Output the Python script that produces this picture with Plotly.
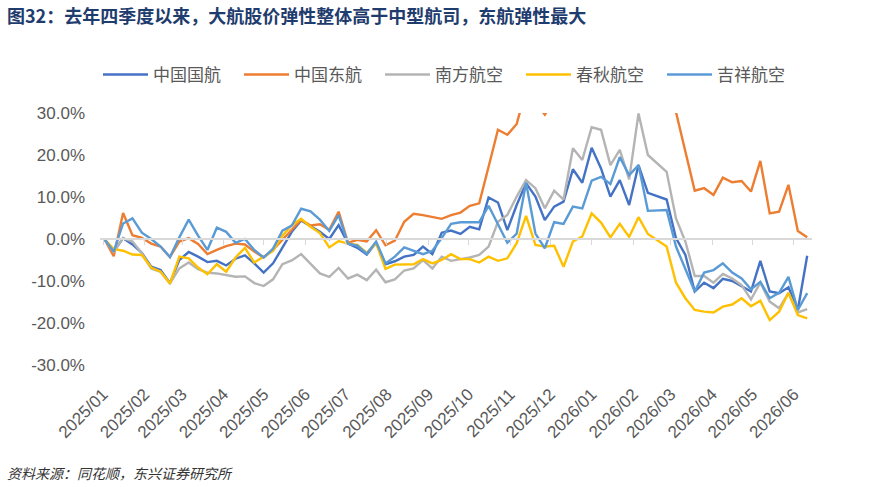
import pandas as pd
import plotly.graph_objects as go

# weekly observation dates (x categories)
dates = pd.date_range("2025-01-02", periods=76, freq="7D")

series_names = ["中国国航", "中国东航", "南方航空", "春秋航空", "吉祥航空"]
series_colors = ["#4472C4", "#ED7D31", "#B4B4B4", "#FFC000", "#5B9BD5"]

air_china = [0, -3.0, 0.2, -1.3, -3.3, -6.6, -7.4, -10.5, -5.0, -3.1,
             -4.2, -5.5, -5.2, -6.3, -4.7, -3.9, -5.8, -8.0, -5.8, -2.0,
             1.7, 4.4, 3.1, 1.7, 0.0, 3.3, -1.1, -2.1, -3.7, -0.9,
             -6.0, -5.3, -4.2, -3.8, -1.8, -3.6, 1.5, 2.0, 1.2, 2.9,
             2.3, 9.9, 8.7, 2.1, 8.1, 13.3, 10.1, 4.5, 7.7, 8.9,
             16.6, 13.4, 21.7, 16.8, 10.1, 14.0, 8.1, 17.6, 11.0, 10.2,
             9.4, 0.2, -3.8, -12.5, -10.4, -11.7, -9.5, -10.0, -11.3, -12.5,
             -5.2, -12.5, -12.9, -11.5, -16.9, -4.0]

china_eastern = [0, -4.1, 6.2, 0.9, 0.3, -1.1, -1.8, -4.3, -0.6, 0.2,
                 -1.2, -3.6, -2.6, -1.7, -1.1, -1.3, -3.0, -4.4, -2.6, -0.2,
                 2.3, 4.6, 3.2, 3.5, 2.2, 6.5, -0.9, -0.2, -0.6, 2.1,
                 -1.5, -0.4, 4.1, 6.0, 5.7, 5.3, 4.8, 5.7, 6.3, 7.9,
                 8.5, 17.2, 26.0, 24.8, 27.4, 35.5, 32.5, 29.6, 33.0, 37.0,
                 41.0, 39.0, 45.0, 43.0, 38.0, 42.0, 39.0, 44.0, 40.0, 38.0,
                 36.0, 30.2, 21.0, 11.5, 12.1, 10.5, 14.6, 13.5, 13.8, 11.3,
                 18.6, 6.1, 6.5, 12.9, 1.9, 0.4]

china_southern = [0, -3.0, 0.2, -0.6, -3.4, -7.0, -7.8, -10.6, -7.0, -5.6,
                  -7.2, -8.0, -8.2, -8.6, -9.0, -8.9, -10.5, -11.2, -9.6, -6.0,
                  -5.1, -3.6, -6.0, -8.2, -9.0, -6.9, -9.4, -8.5, -9.8, -7.3,
                  -10.3, -9.6, -7.5, -7.0, -5.0, -7.0, -4.2, -5.2, -4.8, -4.4,
                  -3.8, -1.8, 4.1, 5.7, 10.1, 14.0, 12.1, 7.3, 11.5, 9.4,
                  21.6, 18.8, 26.6, 26.0, 17.6, 21.2, 14.2, 29.9, 20.0, 18.0,
                  16.0, 4.9, -0.6, -8.8, -8.8, -10.4, -8.3, -9.4, -11.0, -14.4,
                  -10.4, -14.9, -16.5, -12.9, -17.5, -16.7]

spring_airlines = [0, -2.4, -2.8, -3.7, -3.8, -6.8, -7.8, -10.6, -4.2, -4.6,
                   -6.8, -8.4, -6.0, -7.8, -4.4, -2.1, -5.6, -4.1, -2.8, 0.8,
                   3.3, 4.8, 2.9, 1.4, -2.0, -0.5, -1.1, -1.4, -3.3, -1.0,
                   -7.1, -6.1, -6.0, -6.0, -4.8, -5.8, -5.0, -3.6, -4.8, -4.8,
                   -5.6, -4.2, -5.2, -4.6, -1.0, 5.5, -1.4, -1.8, -1.6, -6.6,
                   -0.6, 0.6, 6.1, 3.9, 0.4, 3.6, 0.5, 5.2, 1.2, -0.2,
                   -1.8, -10.4, -14.1, -16.9, -17.3, -17.5, -16.1, -15.6, -14.1, -16.0,
                   -14.7, -19.3, -17.3, -12.8, -18.1, -18.9]

juneyao = [0, -3.0, 3.7, 4.9, 1.5, 0.0, -1.8, -4.3, 0.4, 4.6,
           0.8, -2.6, 2.7, 1.7, -0.9, 0.0, -2.6, -4.4, -2.3, 2.0,
           3.2, 7.2, 6.6, 4.6, 1.9, 5.7, -1.1, -1.6, -3.5, -0.6,
           -5.8, -4.2, -2.0, -2.8, -3.6, -2.8, 0.2, 3.6, 4.0, 4.0,
           4.0, 7.9, 3.6, -0.9, 1.3, 13.4, 1.3, -2.2, 4.0, 3.6,
           7.7, 7.3, 13.9, 14.8, 13.1, 19.5, 15.2, 17.6, 6.7, 6.8,
           6.9, -1.8, -7.0, -12.5, -8.0, -7.4, -5.8, -8.0, -9.4, -12.0,
           -10.2, -14.1, -12.8, -9.0, -16.9, -12.9]

y_tickvals = [30, 20, 10, 0, -10, -20, -30]
y_ticktext = ["30.0%", "20.0%", "10.0%", "0.0%", "-10.0%", "-20.0%", "-30.0%"]

title_text = "图32：去年四季度以来，大航股价弹性整体高于中型航司，东航弹性最大"
source_text = "资料来源：同花顺，东兴证券研究所"

all_series = [air_china, china_eastern, china_southern, spring_airlines, juneyao]

W, H = 869, 487
L, R, T, B = 100, 57, 113, 122

fig = go.Figure()
for name, color, vals in zip(series_names, series_colors, all_series):
    fig.add_trace(go.Scatter(x=dates, y=vals, name=name, mode="lines",
                             line=dict(color=color, width=2.4)))

tick_font = dict(family="Liberation Sans, Arial, sans-serif", size=17, color="#595959")

fig.update_layout(
    width=W, height=H,
    margin=dict(l=L, r=R, t=T, b=B, autoexpand=False),
    paper_bgcolor="white", plot_bgcolor="white",
    showlegend=True,
    legend=dict(orientation="h", xref="container", yref="container",
                x=98 / W, y=1 - 75 / H, xanchor="left", yanchor="middle",
                font=dict(family="Noto Sans CJK SC", size=17, color="#595959"),
                itemwidth=45,
                entrywidth=81, entrywidthmode="pixels", bgcolor="rgba(0,0,0,0)"),
    xaxis=dict(type="date", range=["2024-12-29 18:00", "2026-06-14 14:00"],
               tickformat="%Y/%m", dtick="M1", tick0="2025-01-01",
               tickangle=-45, ticks="outside", ticklen=5, tickcolor="#D9D9D9", tickwidth=1,
               showline=True, linecolor="#D9D9D9", linewidth=1.5,
               anchor="free", position=0.5, ticklabelstandoff=133,
               showgrid=False, zeroline=False, tickfont=tick_font, automargin=False),
    yaxis=dict(range=[-30, 30], tickvals=y_tickvals, ticktext=y_ticktext,
               showgrid=False, zeroline=False, showline=False, ticks="",
               ticklabelstandoff=14, tickfont=tick_font, automargin=False),
    annotations=[
        dict(text="<b>" + title_text + "</b>", xref="paper", yref="paper",
             x=(5 - L) / (W - L - R), y=1 + (T - 15) / (H - T - B),
             xanchor="left", yanchor="middle", showarrow=False,
             font=dict(family="Noto Sans CJK SC", size=18, color="#1F3C6E")),
        dict(text=source_text, xref="paper", yref="paper",
             x=(5 - L) / (W - L - R), y=-(473 - (H - B)) / (H - T - B),
             xanchor="left", yanchor="middle", showarrow=False,
             font=dict(family="Noto Sans CJK SC", size=14, color="#333333", style="italic")),
    ],
)

fig.write_html("out.html")
